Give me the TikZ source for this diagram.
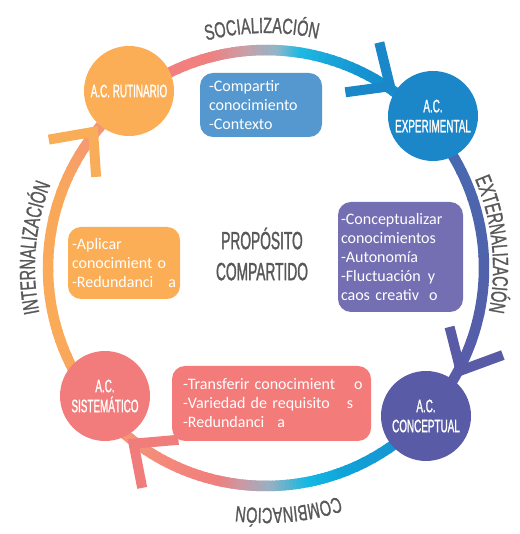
\documentclass[tikz,border=0pt]{standalone}
\usepackage{fontspec}
\setmainfont{Carlito}
\newfontfamily\narrowfam[FakeStretch=0.55,FakeBold=1.2]{Liberation Sans}
\newfontfamily\arcfam[FakeStretch=0.66,FakeBold=1]{Liberation Sans}
\usetikzlibrary{decorations.text}

% node fills
\definecolor{rutC}{HTML}{FBAE55}
\definecolor{expC}{HTML}{1B87C8}
\definecolor{conC}{HTML}{5A5BA6}
\definecolor{sisC}{HTML}{F27B7B}
\definecolor{blueBox}{HTML}{5598CF}
\definecolor{purpleBox}{HTML}{746FB2}
\definecolor{orangeBox}{HTML}{FBAE55}
\definecolor{pinkBox}{HTML}{F37C7A}
\definecolor{greytext}{HTML}{58585A}
% ring colour stops
\definecolor{topA}{HTML}{F37E79}
\definecolor{topB}{HTML}{F08080}
\definecolor{topC}{HTML}{C8A0A8}
\definecolor{topD}{HTML}{8EB6C9}
\definecolor{topE}{HTML}{1DB9E3}
\definecolor{topF}{HTML}{1592D0}
\definecolor{topG}{HTML}{1789C9}
\definecolor{rgtA}{HTML}{456BB2}
\definecolor{rgtB}{HTML}{5A5BA6}
\definecolor{botA}{HTML}{1A8ACA}
\definecolor{botB}{HTML}{10A2D9}
\definecolor{botC}{HTML}{13B8E3}
\definecolor{botD}{HTML}{98B0C2}
\definecolor{botE}{HTML}{C89AA6}
\definecolor{botF}{HTML}{F07E7E}
\definecolor{botG}{HTML}{F48A7A}
\definecolor{botH}{HTML}{F59A78}
\definecolor{lftA}{HTML}{F8A262}
\definecolor{lftB}{HTML}{FAAB57}
\definecolor{lftC}{HTML}{F9A85A}
\definecolor{lftD}{HTML}{F4937A}
% arrowhead colours
\definecolor{headTop}{HTML}{1A87C8}
\definecolor{headRgt}{HTML}{5A5BA6}
\definecolor{headBot}{HTML}{F17C7C}
\definecolor{headLft}{HTML}{FAAD58}

\newcommand\arcfont{\arcfam\fontsize{22pt}{22pt}\selectfont}

% clockwise piece of the ring, blending colour #3 into colour #4
\newcommand\ringseg[4]{%
  \foreach \k in {1,...,10}{%
    \pgfmathsetmacro\rsA{(#1)+((#2)-(#1))*(\k-1)/10}%
    \pgfmathsetmacro\rsB{(#1)+((#2)-(#1))*\k/10-0.5}%
    \pgfmathtruncatemacro\rsP{100*(\k-0.5)/10}%
    \draw[ringline, draw=#4!\rsP!#3] ([shift={(\rsA:218pt)}]ring)
      arc[start angle=\rsA, end angle=\rsB, radius=218pt];%
  }%
}
% open chevron head at coordinate #1, arms pointing back along angle #2
\newcommand\chevron[3]{%
  \pgfmathsetmacro\chA{#2+42}%
  \pgfmathsetmacro\chB{#2-42}%
  \draw[headline, draw=#3] ([shift={(\chA:45pt)}]#1) -- (#1) -- ([shift={(\chB:45pt)}]#1);%
}

\begin{document}
\begin{tikzpicture}[x=1pt, y=1pt,
  ringline/.style={line width=10.5pt, line cap=butt},
  headline/.style={line width=10pt, line cap=butt, line join=miter},
  circ/.style={circle, minimum size=90pt, inner sep=0pt, text=white,
    align=center, font=\narrowfam\fontsize{18pt}{20pt}\selectfont},
  infobox/.style={rounded corners=13pt, text=white, align=left, inner ysep=0pt,
    font=\fontsize{16pt}{19pt}\selectfont},
  arclabel/.style={decorate, decoration={text along path, text align=center,
    text color=greytext, text={|\arcfont|#1}}}
]
\useasboundingbox (0,0) rectangle (519,534);
\coordinate (ring) at (266,266);

% arrow tips on the ring
\coordinate (tipTop) at ([shift={(55.7:220pt)}]ring);
\coordinate (tipRgt) at ([shift={(-27.8:220pt)}]ring);
\coordinate (tipBot) at ([shift={(-127:220pt)}]ring);
\coordinate (tipLft) at ([shift={(141.8:220pt)}]ring);

% socialization arc
\ringseg{128}{105}{topA}{topB}
\ringseg{105}{95}{topB}{topC}
\ringseg{95}{87}{topC}{topD}
\ringseg{87}{81}{topD}{topE}
\ringseg{81}{64}{topE}{topF}
\ringseg{64}{45}{topF}{topG}
% externalization arc
\ringseg{42}{-35}{rgtA}{rgtB}
% combination arc
\ringseg{-43}{-68}{botA}{botB}
\ringseg{-68}{-79}{botB}{botC}
\ringseg{-79}{-89}{botC}{botD}
\ringseg{-89}{-96}{botD}{botE}
\ringseg{-96}{-103}{botE}{botF}
\ringseg{-103}{-118}{botF}{botG}
\ringseg{-118}{-135}{botG}{botH}
% internalization arc
\ringseg{218}{195}{lftA}{lftB}
\ringseg{195}{160}{lftB}{lftC}
\ringseg{160}{138}{lftC}{lftD}

% arrowheads
\chevron{tipTop}{145.7}{headTop}
\chevron{tipRgt}{62.2}{headRgt}
\chevron{tipBot}{-37}{headBot}
\chevron{tipLft}{231.8}{headLft}

% the four stages
\node[circ, fill=rutC] (rut) at (129,443) {A.C. RUTINARIO};
\node[circ, fill=expC] (exp) at (433,418) {A.C.\\EXPERIMENTAL};
\node[circ, fill=conC] (con) at (426,118) {A.C.\\CONCEPTUAL};
\node[circ, fill=sisC] (sis) at (105,138) {A.C.\\SISTEMÁTICO};

% notes
\node[infobox, fill=blueBox, minimum height=64pt, text width=104pt, inner xsep=9pt]
  (share) at (261,429) {-Compartir\\conocimiento\\-Contexto};
\node[infobox, fill=purpleBox, minimum height=110pt, text width=119pt, inner xsep=3pt]
  (concept) at (400.5,277) {\mbox{-Conceptualizar}\\conocimientos\\-Autonomía\\
  \mbox{-Fluctuación\hspace{7pt}y}\\\mbox{caos creativ\hspace{10pt}o}};
\node[infobox, fill=orangeBox, minimum height=72pt, text width=104pt, inner xsep=4pt]
  (apply) at (124,271) {-Aplicar\\\mbox{conocimient o}\\\mbox{-Redundanci\hspace{15pt}a}};
\node[infobox, fill=pinkBox, minimum height=75pt, text width=177pt, inner xsep=11pt]
  (transfer) at (271.5,130.5) {\mbox{-Transferir conocimient\hspace{19pt}o}\\
  \mbox{-Variedad de requisito\hspace{17pt}s}\\\mbox{-Redundanci\hspace{13pt}a}};

% centre
\node[text=greytext, align=center, font=\narrowfam\fontsize{25pt}{31pt}\selectfont]
  (purpose) at (262,280) {PROPÓSITO\\COMPARTIDO};

% phase names around the ring
\path[arclabel=SOCIALIZACIÓN] ([shift={(121:235pt)}]ring)
  arc[start angle=121, end angle=61, radius=235pt];
\path[arclabel=EXTERNALIZACIÓN] ([shift={(36:227pt)}]ring)
  arc[start angle=36, end angle=-24, radius=227pt];
\path[arclabel=COMBINACIÓN] ([shift={(-54.7:240pt)}]ring)
  arc[start angle=-54.7, end angle=-114.7, radius=240pt];
\path[arclabel=INTERNALIZACIÓN] ([shift={(205:231pt)}]ring)
  arc[start angle=205, end angle=145, radius=231pt];
\end{tikzpicture}
\end{document}
